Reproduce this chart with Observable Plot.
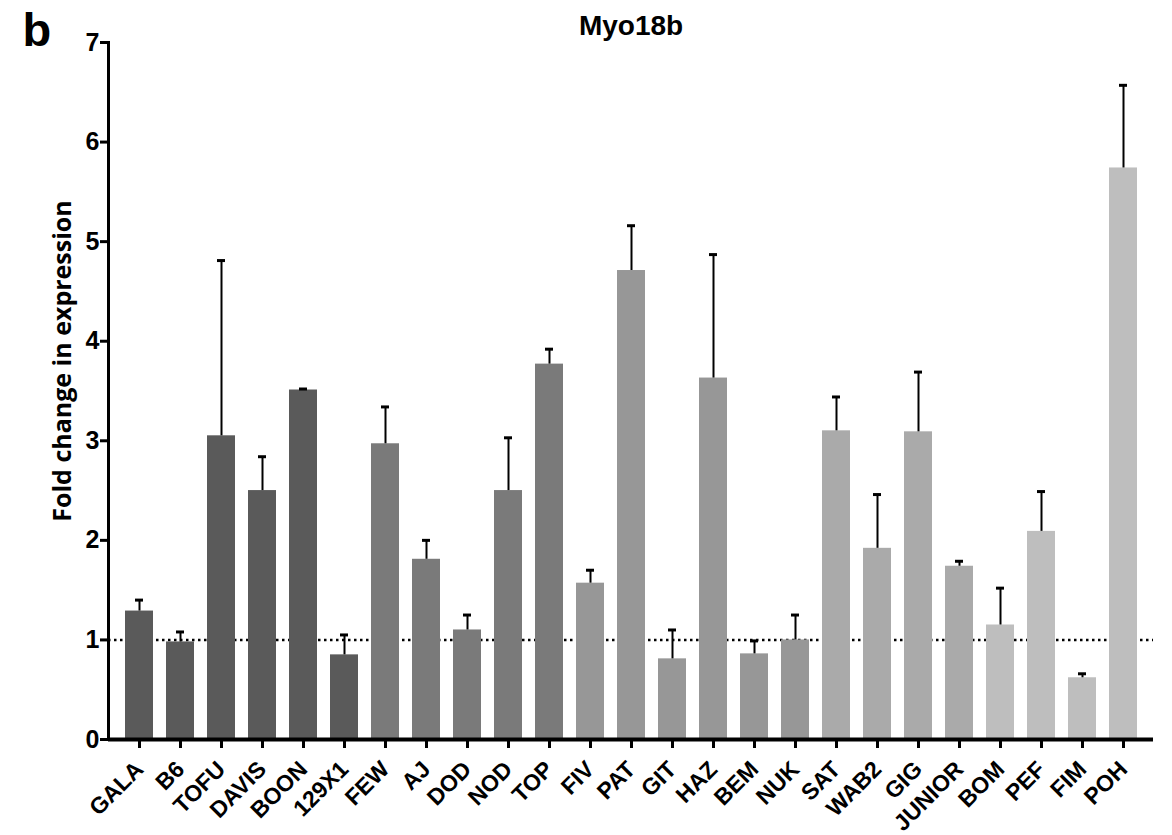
<!DOCTYPE html>
<html>
<head>
<meta charset="utf-8">
<script src="https://cdn.jsdelivr.net/npm/d3@7"></script>
<script src="https://cdn.jsdelivr.net/npm/@observablehq/plot@0.6"></script>
<style>
  html, body { margin: 0; padding: 0; background: #fff; }
  #chart svg { display: block; }
</style>
</head>
<body>
<div id="chart"></div>
<script>
const strains = ["GALA","B6","TOFU","DAVIS","BOON","129X1","FEW","AJ","DOD","NOD","TOP","FIV","PAT","GIT","HAZ","BEM","NUK","SAT","WAB2","GIG","JUNIOR","BOM","PEF","FIM","POH"];
const means   = [1.29,0.98,3.05,2.50,3.51,0.85,2.97,1.81,1.10,2.50,3.77,1.57,4.71,0.81,3.63,0.86,1.00,3.10,1.92,3.09,1.74,1.15,2.09,0.62,5.74];
const errors  = [0.11,0.10,1.76,0.34,0.01,0.20,0.37,0.19,0.15,0.53,0.15,0.13,0.45,0.29,1.24,0.13,0.25,0.34,0.54,0.60,0.05,0.37,0.40,0.04,0.83];
const groups  = ["g1","g1","g1","g1","g1","g1","g2","g2","g2","g2","g2","g3","g3","g3","g3","g3","g3","g4","g4","g4","g4","g5","g5","g5","g5"];
const groupNames = ["g1","g2","g3","g4","g5"];
const groupColors = ["#5a5a5a","#7a7a7a","#979797","#aaaaaa","#bebebe"];
const yTicks = [0,1,2,3,4,5,6,7];
const referenceLevel = 1;
const title = "Myo18b";
const panelLetter = "b";
const yLabel = "Fold change in expression";

const data = strains.map((s, i) => ({strain: s, mean: means[i], err: errors[i], group: groups[i]}));

const fontMain = "'Liberation Sans', Arial, sans-serif";

const chart = Plot.plot({
  width: 1172,
  height: 835,
  marginLeft: 108,
  marginRight: 19,
  marginTop: 42,
  marginBottom: 96,
  style: {fontFamily: fontMain, background: "#fff", color: "#000"},
  x: {domain: strains, padding: 0.32, label: null},
  y: {domain: [0, 7], label: null},
  color: {domain: groupNames, range: groupColors},
  marks: [
    Plot.ruleY([referenceLevel], {stroke: "#000", strokeWidth: 2.5, strokeDasharray: "2.5,3.5"}),
    Plot.barY(data, {x: "strain", y: "mean", fill: "group"}),
    Plot.ruleX(data, {x: "strain", y1: "mean", y2: d => d.mean + d.err, stroke: "#000", strokeWidth: 2}),
    Plot.tickY(data, {x: "strain", y: d => d.mean + d.err, stroke: "#000", strokeWidth: 3, insetLeft: 10, insetRight: 10}),
    Plot.ruleY([0], {stroke: "#000", strokeWidth: 4}),
    Plot.frame({anchor: "left", stroke: "#000", strokeWidth: 3}),
    Plot.axisY({ticks: yTicks, tickFormat: d => String(d), tickSize: 8, tickPadding: 1, strokeWidth: 3, fontSize: 25, fontWeight: "bold", label: null}),
    Plot.axisX({tickRotate: -45, tickSize: 9, tickPadding: 17, strokeWidth: 3, fontSize: 23, fontWeight: "bold", label: null}),
    Plot.text([title], {frameAnchor: "top", dy: -8, lineAnchor: "bottom", fontSize: 28, fontWeight: "bold", fill: "#000"}),
    Plot.text([panelLetter], {frameAnchor: "top-left", dx: -86, dy: 3, textAnchor: "start", lineAnchor: "bottom", fontSize: 47, fontWeight: "bold", fill: "#000"}),
    Plot.text([yLabel], {frameAnchor: "left", dx: -46, dy: -30, rotate: -90, textAnchor: "middle", lineAnchor: "middle", fontSize: 25, fontWeight: "bold", fontFamily: "'Open Sans', sans-serif", fill: "#000"})
  ]
});
document.getElementById("chart").appendChild(chart);
</script>
</body>
</html>
